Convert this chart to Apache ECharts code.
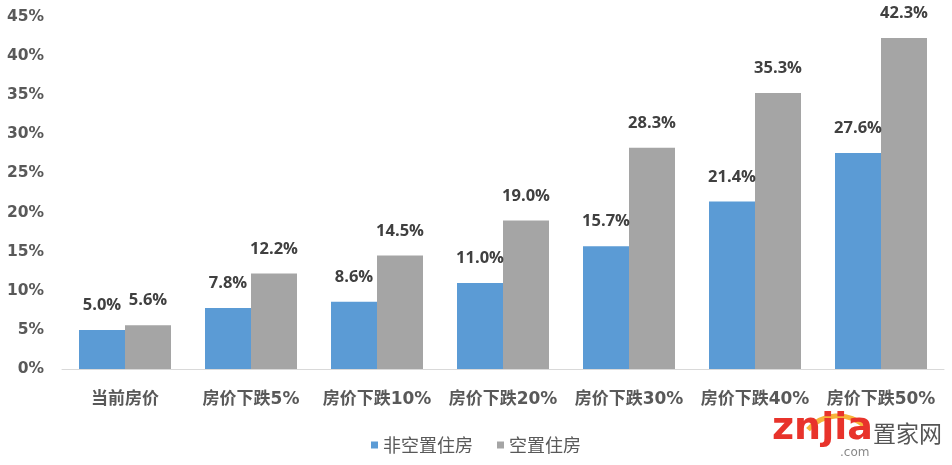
<!DOCTYPE html>
<html><head><meta charset="utf-8">
<script src="https://cdn.jsdelivr.net/npm/echarts@6/dist/echarts.min.js"></script>
<style>html,body{margin:0;padding:0;background:#fff}#c{width:952px;height:465px}</style>
</head><body><div id="c"></div>
<script>
var categories = ['当前房价','房价下跌5%','房价下跌10%','房价下跌20%','房价下跌30%','房价下跌40%','房价下跌50%'];
var nonVacant = [5.0, 7.8, 8.6, 11.0, 15.7, 21.4, 27.6];
var vacant = [5.6, 12.2, 14.5, 19.0, 28.3, 35.3, 42.3];
var seriesNames = ['非空置住房','空置住房'];

var chart = echarts.init(document.getElementById('c'));
var labelStyle = {show:true, position:'top', distance:16, fontFamily:'"Open Sans", sans-serif', fontWeight:'bold', fontSize:16.5, color:'#404040', formatter:function(p){return p.value.toFixed(1)+'%';}};
chart.setOption({
  animation:false,
  grid:{left:62, right:8, top:17, bottom:96, containLabel:false},
  legend:{data:seriesNames, bottom:6, left:'center', itemWidth:7, itemHeight:7, itemGap:24, icon:'rect',
    textStyle:{fontSize:18, color:'#595959', fontFamily:'"Noto Sans CJK SC", sans-serif'}},
  xAxis:{type:'category', data:categories,
    axisLine:{lineStyle:{color:'#d9d9d9', width:1}}, axisTick:{show:false},
    axisLabel:{margin:22, fontSize:17, fontWeight:'bold', color:'#595959', interval:0, fontFamily:'"DejaVu Sans", "Noto Sans CJK SC", sans-serif'}},
  yAxis:{type:'value', min:0, max:45, interval:5,
    axisLine:{show:false}, axisTick:{show:false}, splitLine:{show:false},
    axisLabel:{formatter:'{value}%', margin:18, fontSize:15.5, fontWeight:'bold', color:'#595959', fontFamily:'"DejaVu Sans", sans-serif'}},
  graphic:[
    {type:'arc', z:1, shape:{cx:838, cy:456, r:40, startAngle:Math.PI*1.23, endAngle:Math.PI*1.76}, style:{stroke:'#f7b43a', lineWidth:5, fill:null}},
    {type:'text', z:2, left:772, top:410, style:{text:'znjia', font:'bold 38px "DejaVu Sans", sans-serif', fill:'#e8332b'}},
    {type:'text', z:2, left:873, top:422, style:{text:'置家网', font:'23px "Noto Sans CJK SC", sans-serif', fill:'#555555'}},
    {type:'text', z:2, left:840, top:447, style:{text:'.com', font:'12px "DejaVu Sans", sans-serif', fill:'#888888'}}
  ],
  series:[
    {name:seriesNames[0], type:'bar', data:nonVacant, barWidth:46, barGap:'0%', itemStyle:{color:'#5B9BD5'}, label:labelStyle},
    {name:seriesNames[1], type:'bar', data:vacant, barWidth:46, itemStyle:{color:'#A5A5A5'}, label:labelStyle}
  ]
});
</script></body></html>
